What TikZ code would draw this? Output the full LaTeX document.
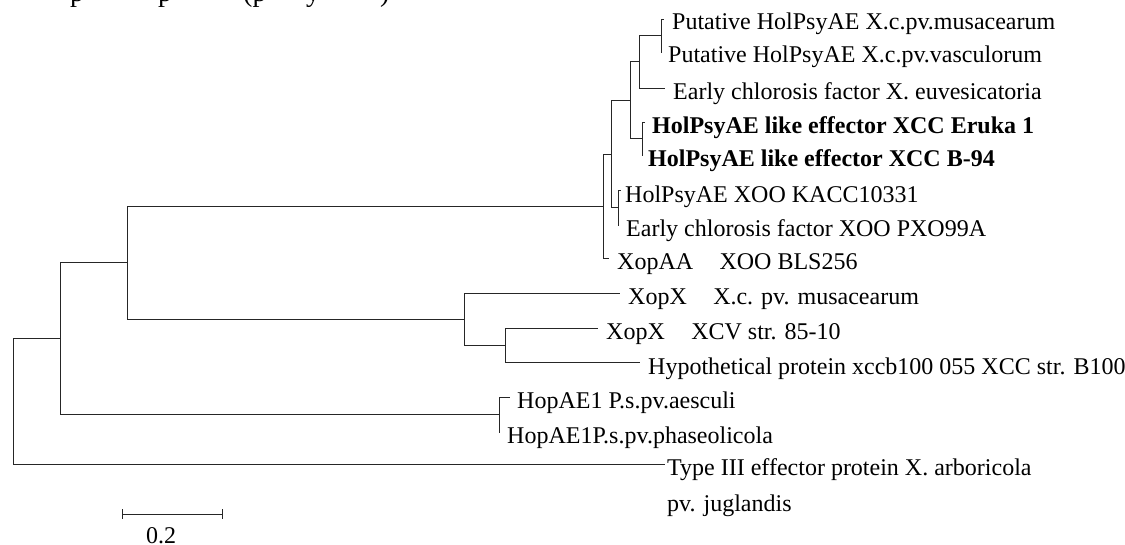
\documentclass[tikz,border=0pt]{standalone}
\usepackage{fontspec}
\setmainfont{Liberation Serif}
\begin{document}
\begin{tikzpicture}[x=1pt,y=-1pt,
  br/.style={line width=0.8pt, draw=black!85},
  lab/.style={anchor=base west, inner sep=0pt, font=\fontsize{24}{28}\selectfont},
  blab/.style={lab, font=\fontsize{24}{28}\selectfont\bfseries},
  frag/.style={anchor=base west, inner sep=0pt, font=\fontsize{28}{32}\selectfont}]
\useasboundingbox (0,0) rectangle (1125,545);
% cut-off title fragments at the top edge
\node[frag] (f1) at (70,2) {p};
\node[frag] (f2) at (158,2) {p};
\node[frag] (f3) at (243,2) {(p};
\node[frag] (f4) at (306,2) {y};
\node[frag] (f5) at (380,2) {)};
% tips
\coordinate (t1) at (664,19);
\coordinate (t2) at (662,52);
\coordinate (t3) at (665,88);
\coordinate (t4) at (645,122);
\coordinate (t5) at (643,155);
\coordinate (t6) at (621,190);
\coordinate (t7) at (619,225);
\coordinate (t8) at (609,258);
\coordinate (t9) at (620,293);
\coordinate (t10) at (598,328);
\coordinate (t11) at (640,362);
\coordinate (t12) at (510,397);
\coordinate (t13) at (500,432);
\coordinate (t14) at (665,464);
% internal nodes
\coordinate (A) at (661,35.5);
\coordinate (B) at (639,61.75);
\coordinate (D) at (642,138.5);
\coordinate (C) at (630,100);
\coordinate (E) at (618,207.5);
\coordinate (G) at (611,154);
\coordinate (F) at (603,206);
\coordinate (I) at (505,345);
\coordinate (H) at (464,319);
\coordinate (J) at (127,262.5);
\coordinate (K) at (499,414.5);
\coordinate (L) at (60,338.5);
\coordinate (R) at (13,401);
% branches
\draw[br] (A) |- (t1); \draw[br] (A) |- (t2);
\draw[br] (B) |- (A);  \draw[br] (B) |- (t3);
\draw[br] (D) |- (t4); \draw[br] (D) |- (t5);
\draw[br] (C) |- (B);  \draw[br] (C) |- (D);
\draw[br] (E) |- (t6); \draw[br] (E) |- (t7);
\draw[br] (G) |- (C);  \draw[br] (G) |- (E);
\draw[br] (F) |- (G);  \draw[br] (F) |- (t8);
\draw[br] (I) |- (t10); \draw[br] (I) |- (t11);
\draw[br] (H) |- (t9); \draw[br] (H) |- (I);
\draw[br] (J) |- (F);  \draw[br] (J) |- (H);
\draw[br] (K) |- (t12); \draw[br] (K) |- (t13);
\draw[br] (L) |- (J);  \draw[br] (L) |- (K);
\draw[br] (R) |- (L);  \draw[br] (R) |- (t14);
% labels
\node[lab] (l1) at (672,30) {Putative HolPsyAE X.c.pv.musacearum};
\node[lab] (l2) at (668,63) {Putative HolPsyAE X.c.pv.vasculorum};
\node[lab] (l3) at (673,99.5) {Early chlorosis factor X. euvesicatoria};
\node[blab] (l4) at (652,134) {HolPsyAE like effector XCC Eruka 1};
\node[blab] (l5) at (648,166.5) {HolPsyAE like effector XCC B-94};
\node[lab] (l6) at (625,203) {HolPsyAE XOO KACC10331};
\node[lab] (l7) at (626,237) {Early chlorosis factor XOO PXO99A};
\node[lab] (l8) at (617,270) {XopAA\hspace{1.1em}XOO BLS256};
\node[lab] (l9) at (628,305) {XopX\hspace{1.1em}X.c. pv. musacearum};
\node[lab] (l10) at (606,340) {XopX\hspace{1.1em}XCV str. 85-10};
\node[lab] (l11) at (648,374) {Hypothetical protein xccb100 055 XCC str. B100};
\node[lab] (l12) at (517,409) {HopAE1 P.s.pv.aesculi};
\node[lab] (l13) at (507,443) {HopAE1P.s.pv.phaseolicola};
\node[lab] (l14) at (667,475) {Type III effector protein X. arboricola};
\node[lab] (l14b) at (667,511) {pv. juglandis};
% scale bar
\coordinate (s1) at (122,514);
\coordinate (s2) at (222,514);
\draw[br] (s1) -- (s2);
\draw[br] ([yshift=5pt]s1) -- ([yshift=-5pt]s1);
\draw[br] ([yshift=5pt]s2) -- ([yshift=-5pt]s2);
\node[lab, anchor=base] (sl) at (161,543) {0.2};
\end{tikzpicture}
\end{document}
